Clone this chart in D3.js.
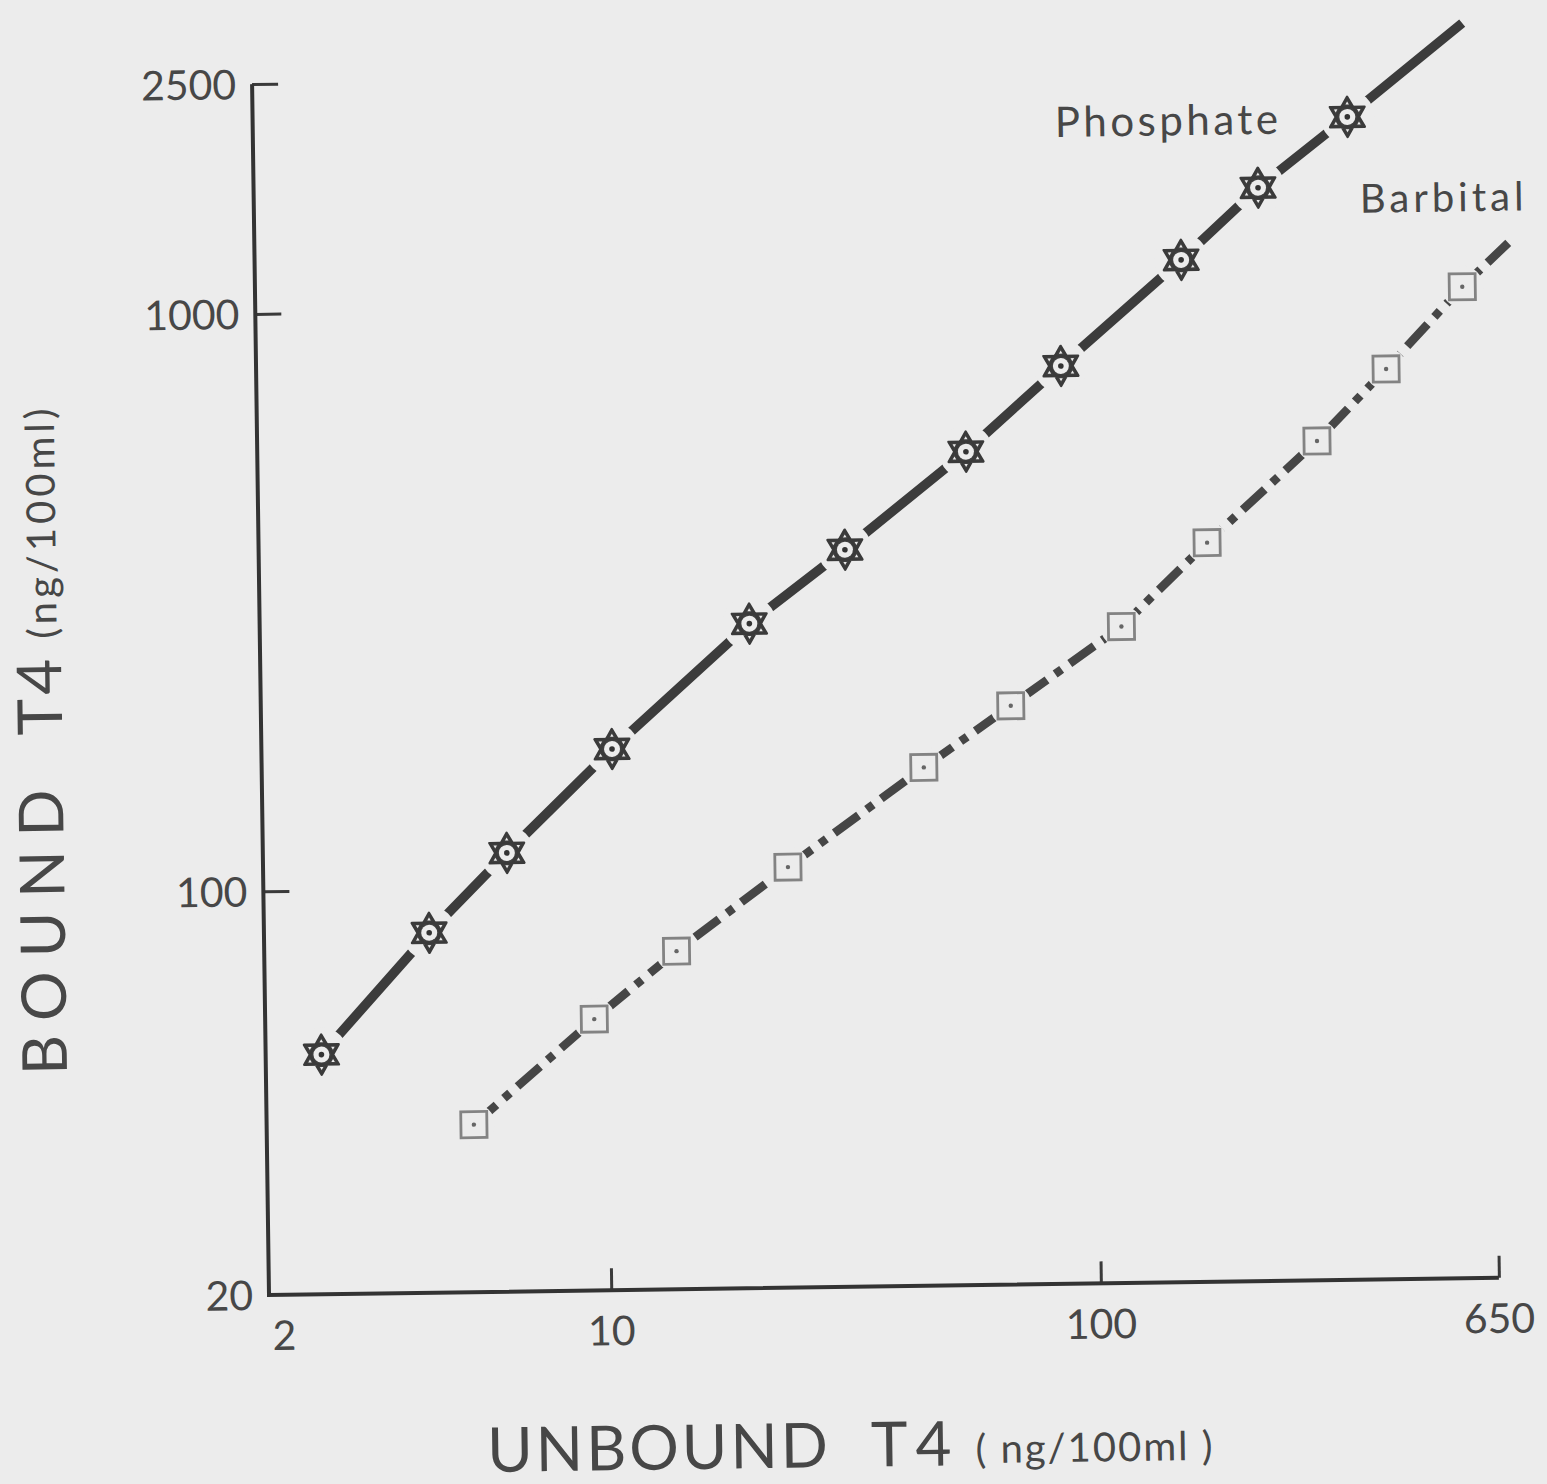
<!DOCTYPE html>
<html>
<head>
<meta charset="utf-8">
<script src="https://cdn.jsdelivr.net/npm/d3@7/dist/d3.min.js"></script>
<style>
  html, body { margin: 0; padding: 0; background: #ececec; }
  svg { display: block; }
  text { font-family: Lato, "Open Sans", sans-serif; fill: #474747; }
</style>
</head>
<body>
<div id="chart"></div>
<script>
// datos (ng/100ml)
var phosphateUnbound = [2.6, 4.35, 6.3, 10.4, 20, 31.5, 56, 88, 156, 225, 344];
var phosphateBound   = [52, 84, 115, 173, 283, 378, 555, 777, 1178, 1564, 2064];
var barbitalUnbound  = [5.3, 9.4, 13.9, 23.6, 45, 68, 115, 173, 292, 406, 584];
var barbitalBound    = [39, 59, 77, 107, 158, 201, 274, 381, 568, 754, 1042];
// prolongacion de las rectas mas alla del ultimo punto
var phosphateEnd = [594, 2980];
var barbitalEnd  = [727, 1238];

var xTicks = [2, 10, 100, 650];
var yTicks = [20, 100, 1000, 2500];

var W = 1547, H = 1484;
var bg = "#ececec";
var width = 1230, height = 1211;

var svg = d3.select("#chart").append("svg")
  .attr("width", W).attr("height", H);

svg.append("rect").attr("width", W).attr("height", H).attr("fill", bg);

// la hoja escaneada esta un poco girada
var g = svg.append("g")
  .attr("transform", "translate(269,1295) rotate(-0.8)");

var x = d3.scaleLog().domain([2, 650]).range([0, width]);
var y = d3.scaleLog().domain([20, 2500]).range([0, -height]);

// ejes
var ejeX = g.append("g")
  .call(d3.axisBottom(x).tickValues(xTicks.slice(1)).tickSize(-22).tickFormat(""));
var ejeY = g.append("g")
  .call(d3.axisLeft(y).tickValues(yTicks.slice(1)).tickSize(-26).tickFormat(""));
[ejeX, ejeY].forEach(function(a) {
  a.select(".domain").remove();
  a.selectAll("line").attr("stroke", "#3a3a3a").attr("stroke-width", 3);
});
g.append("path")
  .attr("d", "M0," + y(2500) + "V0H" + x(650))
  .attr("fill", "none").attr("stroke", "#333").attr("stroke-width", 4);

// etiquetas de los ejes
g.selectAll(".ylab").data(yTicks).join("text")
  .attr("x", -16).attr("y", d => y(d))
  .attr("dy", "0.36em")
  .attr("text-anchor", "end")
  .style("font-size", "41px")
  .text(d => d);

g.selectAll(".xlab").data(xTicks).join("text")
  .attr("x", (d, i) => i === 0 ? x(d) + 3 : x(d))
  .attr("y", 55)
  .attr("text-anchor", (d, i) => i === 0 ? "start" : "middle")
  .style("font-size", "41px")
  .text(d => d);

// titulos
var tx = g.append("text").attr("x", 216).attr("y", 180);
tx.append("tspan").style("font-size", "62px").attr("letter-spacing", "3px").text("UNBOUND");
tx.append("tspan").attr("dx", 40).style("font-size", "62px").attr("letter-spacing", "8px").text("T4");
tx.append("tspan").attr("dx", 16).style("font-size", "40px").attr("dy", -2).attr("letter-spacing", "2px").text("( ng/100ml )");

var ty = g.append("text").attr("transform", "translate(-199,-223) rotate(-90)");
ty.append("tspan").style("font-size", "62px").attr("letter-spacing", "14px").text("BOUND");
ty.append("tspan").attr("dx", 40).style("font-size", "62px").attr("letter-spacing", "4px").text("T4");
ty.append("tspan").attr("dx", 16).style("font-size", "40px").attr("dy", -4).attr("letter-spacing", "4px").text("(ng/100ml)");

// series
var phosphate = phosphateUnbound.map((d, i) => [d, phosphateBound[i]]);
var barbital = barbitalUnbound.map((d, i) => [d, barbitalBound[i]]);

var linea = d3.line().x(d => x(d[0])).y(d => y(d[1]));

g.append("path")
  .datum(phosphate.concat([phosphateEnd]))
  .attr("d", linea)
  .attr("fill", "none").attr("stroke", "#3c3c3c")
  .attr("stroke-width", 9.5);

g.append("path")
  .datum(barbital.concat([barbitalEnd]))
  .attr("d", linea)
  .attr("fill", "none").attr("stroke", "#464646")
  .attr("stroke-width", 8.5)
  .attr("stroke-dasharray", "30,10,8,10");

// huecos de la linea alrededor de los marcadores
g.selectAll(".haloP").data(phosphate).join("circle")
  .attr("cx", d => x(d[0])).attr("cy", d => y(d[1]))
  .attr("r", 27).attr("fill", bg);
g.selectAll(".haloB").data(barbital).join("circle")
  .attr("cx", d => x(d[0])).attr("cy", d => y(d[1]))
  .attr("r", 21).attr("fill", bg);

// estrellas (fosfato)
var R = 20;
function tri(a0) {
  return d3.range(3).map(function(k) {
    var a = (a0 + k * 120) * Math.PI / 180;
    return [R * Math.cos(a), R * Math.sin(a)];
  });
}
function puntas() {
  var r2 = R / Math.sqrt(3), out = [];
  for (var k = 0; k < 6; k++) {
    var a = (-90 + k * 60) * Math.PI / 180;
    var pts = [[R * Math.cos(a), R * Math.sin(a)],
               [r2 * Math.cos(a - Math.PI / 6), r2 * Math.sin(a - Math.PI / 6)],
               [r2 * Math.cos(a + Math.PI / 6), r2 * Math.sin(a + Math.PI / 6)]];
    var cx = (pts[0][0] + pts[1][0] + pts[2][0]) / 3, cy = (pts[0][1] + pts[1][1] + pts[2][1]) / 3;
    out.push(pts.map(p => [cx + (p[0] - cx) * 0.3, cy + (p[1] - cy) * 0.3]));
  }
  return out;
}
var estrellas = g.selectAll(".star").data(phosphate).join("g")
  .attr("transform", d => "translate(" + x(d[0]) + "," + y(d[1]) + ")");
estrellas.append("path")
  .attr("d", "M" + tri(-90).join("L") + "Z M" + tri(90).join("L") + "Z")
  .attr("fill", "#404040").attr("stroke", "#3a3a3a").attr("stroke-width", 2.5).attr("stroke-linejoin", "round");
puntas().forEach(function(p) {
  estrellas.append("path").attr("d", "M" + p.join("L") + "Z").attr("fill", bg);
});
estrellas.append("circle").attr("r", 8).attr("fill", bg);
estrellas.append("circle").attr("r", 2.8).attr("fill", "#333");

// cuadrados (barbital)
var cuadros = g.selectAll(".sq").data(barbital).join("g")
  .attr("transform", d => "translate(" + x(d[0]) + "," + y(d[1]) + ")");
cuadros.append("rect")
  .attr("x", -13).attr("y", -13).attr("width", 26).attr("height", 26)
  .attr("fill", bg).attr("stroke", "#838383").attr("stroke-width", 2.8);
cuadros.append("circle").attr("r", 2.2).attr("fill", "#666");

// leyendas
g.append("text").attr("x", 802).attr("y", -1147)
  .style("font-size", "42px").attr("letter-spacing", "3.5px").text("Phosphate");
g.append("text").attr("x", 1106).attr("y", -1067)
  .style("font-size", "40px").attr("letter-spacing", "4px").text("Barbital");
</script>
</body>
</html>
